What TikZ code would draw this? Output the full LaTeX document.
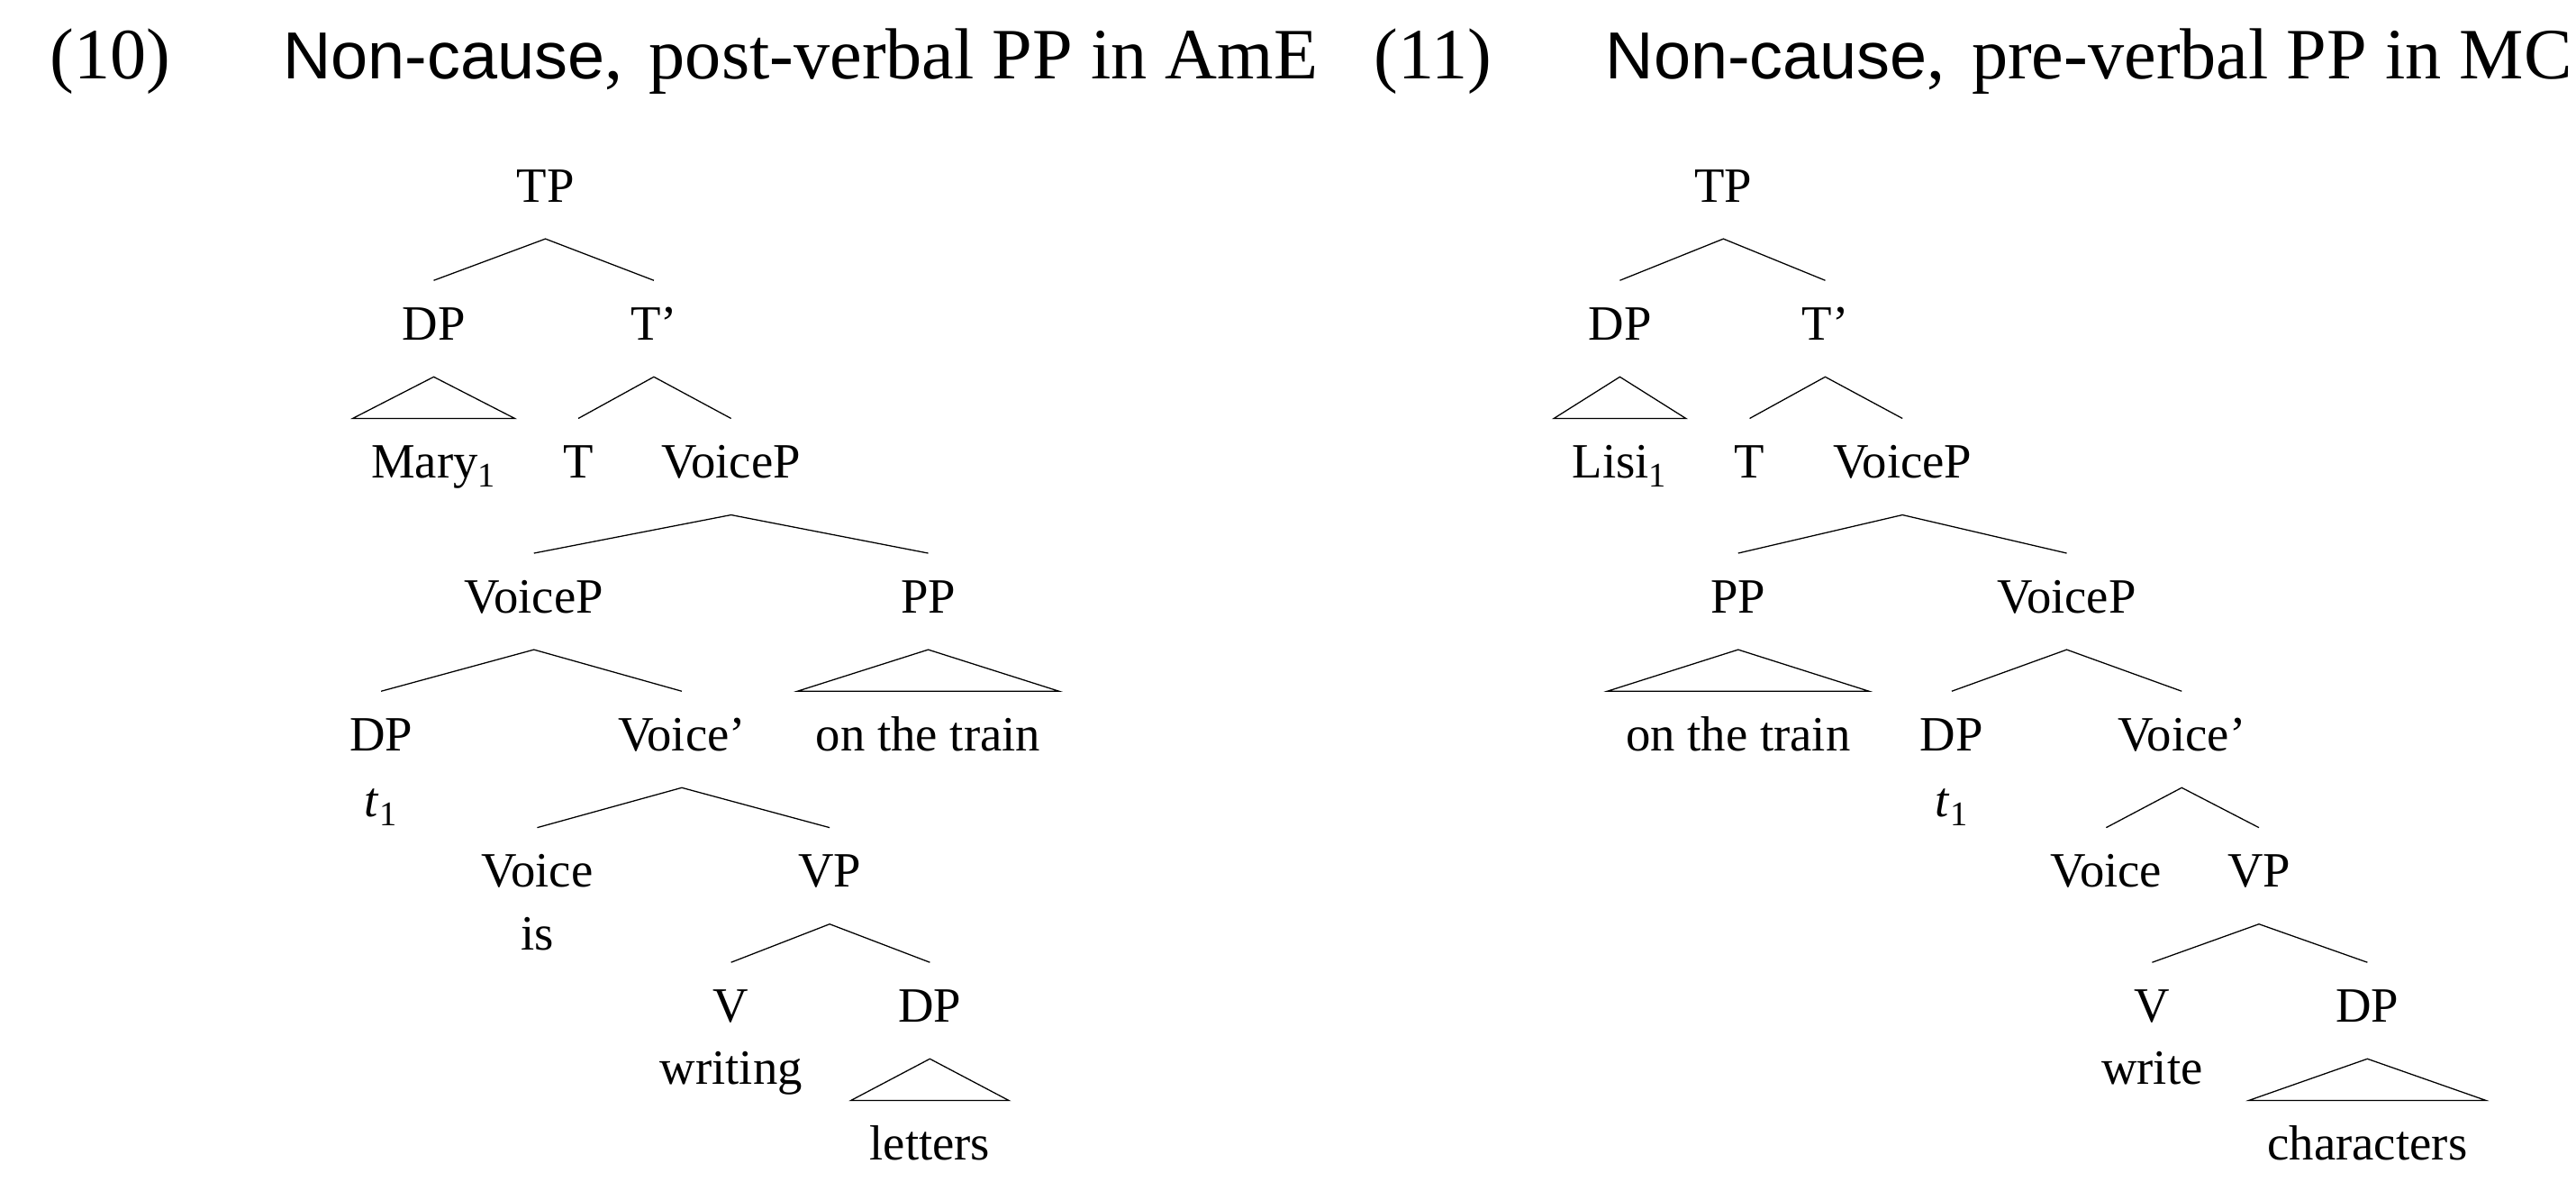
\documentclass[tikz,border=0pt]{standalone}
\usepackage{fontspec}
\setmainfont{Liberation Serif}
\newfontfamily\headsans{Liberation Sans}
\usepackage{tikz}

\begin{document}
\begin{tikzpicture}[
      x=1pt, y=-1pt,
      line width=0.7pt,
      cat/.style={
        anchor=base,
        inner sep=0pt,
        text height=36pt,
        text depth=22pt,
        font=\fontsize{30}{36}\selectfont
      },
      heading/.style={
        anchor=base west,
        inner sep=0pt,
        font=\fontsize{44}{50}\selectfont
      }
    ]
    \useasboundingbox (0,0) rectangle (1568,719);

    % Headings
    \node[heading] (ex10) at (30,48) {(10)};
    \node[heading] (title10) at (172,48) {{\headsans\fontsize{40.5}{50}\selectfont Non-cause},\hspace{5pt} post-verbal PP in AmE};
    \node[heading] (ex11) at (836,48) {(11)};
    \node[heading] (title11) at (977,48) {{\headsans\fontsize{40.5}{50}\selectfont Non-cause},\hspace{5pt} pre-verbal PP in MC};

    % Nodes (10)
    \node[cat] (l-tp) at (332,123) {TP};
    \node[cat] (l-dp) at (264,207) {DP};
    \node[cat] (l-tbar) at (398,207) {T’};
    \node[cat] (l-mary) at (264,291) {Mary\textsubscript{1}};
    \node[cat] (l-t) at (352,291) {T};
    \node[cat] (l-voicep) at (445,291) {VoiceP};
    \node[cat] (l-voicep2) at (325,373) {VoiceP};
    \node[cat] (l-pp) at (565,373) {PP};
    \node[cat] (l-dp2) at (232,457) {DP};
    \node[cat] (l-trace) at (232,497) {\textit{t}\textsubscript{1}};
    \node[cat] (l-voicebar) at (415,457) {Voice’};
    \node[cat] (l-train) at (565,457) {on the train};
    \node[cat] (l-voice) at (327,540) {Voice};
    \node[cat] (l-is) at (327,578) {is};
    \node[cat] (l-vp) at (505,540) {VP};
    \node[cat] (l-v) at (445,622) {V};
    \node[cat] (l-writing) at (445,660) {writing};
    \node[cat] (l-dp3) at (566,622) {DP};
    \node[cat] (l-letters) at (566,706) {letters};

    % Branches (10)
    \draw (l-dp.north) -- (l-tp.south) -- (l-tbar.north);
    \draw (l-dp.south) -- ([xshift=-11pt]l-mary.north west) -- ([xshift=11pt]l-mary.north east) -- cycle;
    \draw (l-t.north) -- (l-tbar.south) -- (l-voicep.north);
    \draw (l-voicep2.north) -- (l-voicep.south) -- (l-pp.north);
    \draw (l-dp2.north) -- (l-voicep2.south) -- (l-voicebar.north);
    \draw (l-pp.south) -- ([xshift=-11pt]l-train.north west) -- ([xshift=11pt]l-train.north east) -- cycle;
    \draw (l-voice.north) -- (l-voicebar.south) -- (l-vp.north);
    \draw (l-v.north) -- (l-vp.south) -- (l-dp3.north);
    \draw (l-dp3.south) -- ([xshift=-11pt]l-letters.north west) -- ([xshift=11pt]l-letters.north east) -- cycle;

    % Nodes (11)
    \node[cat] (r-tp) at (1049,123) {TP};
    \node[cat] (r-dp) at (986,207) {DP};
    \node[cat] (r-tbar) at (1111,207) {T’};
    \node[cat] (r-lisi) at (986,291) {Lisi\textsubscript{1}};
    \node[cat] (r-t) at (1065,291) {T};
    \node[cat] (r-voicep) at (1158,291) {VoiceP};
    \node[cat] (r-pp) at (1058,373) {PP};
    \node[cat] (r-voicep2) at (1258,373) {VoiceP};
    \node[cat] (r-train) at (1058,457) {on the train};
    \node[cat] (r-dp2) at (1188,457) {DP};
    \node[cat] (r-trace) at (1188,497) {\textit{t}\textsubscript{1}};
    \node[cat] (r-voicebar) at (1328,457) {Voice’};
    \node[cat] (r-voice) at (1282,540) {Voice};
    \node[cat] (r-vp) at (1375,540) {VP};
    \node[cat] (r-v) at (1310,622) {V};
    \node[cat] (r-write) at (1310,660) {write};
    \node[cat] (r-dp3) at (1441,622) {DP};
    \node[cat] (r-chars) at (1441,706) {characters};

    % Branches (11)
    \draw (r-dp.north) -- (r-tp.south) -- (r-tbar.north);
    \draw (r-dp.south) -- ([xshift=-11pt]r-lisi.north west) -- ([xshift=11pt]r-lisi.north east) -- cycle;
    \draw (r-t.north) -- (r-tbar.south) -- (r-voicep.north);
    \draw (r-pp.north) -- (r-voicep.south) -- (r-voicep2.north);
    \draw (r-pp.south) -- ([xshift=-11pt]r-train.north west) -- ([xshift=11pt]r-train.north east) -- cycle;
    \draw (r-dp2.north) -- (r-voicep2.south) -- (r-voicebar.north);
    \draw (r-voice.north) -- (r-voicebar.south) -- (r-vp.north);
    \draw (r-v.north) -- (r-vp.south) -- (r-dp3.north);
    \draw (r-dp3.south) -- ([xshift=-11pt]r-chars.north west) -- ([xshift=11pt]r-chars.north east) -- cycle;
  \end{tikzpicture}
\end{document}
